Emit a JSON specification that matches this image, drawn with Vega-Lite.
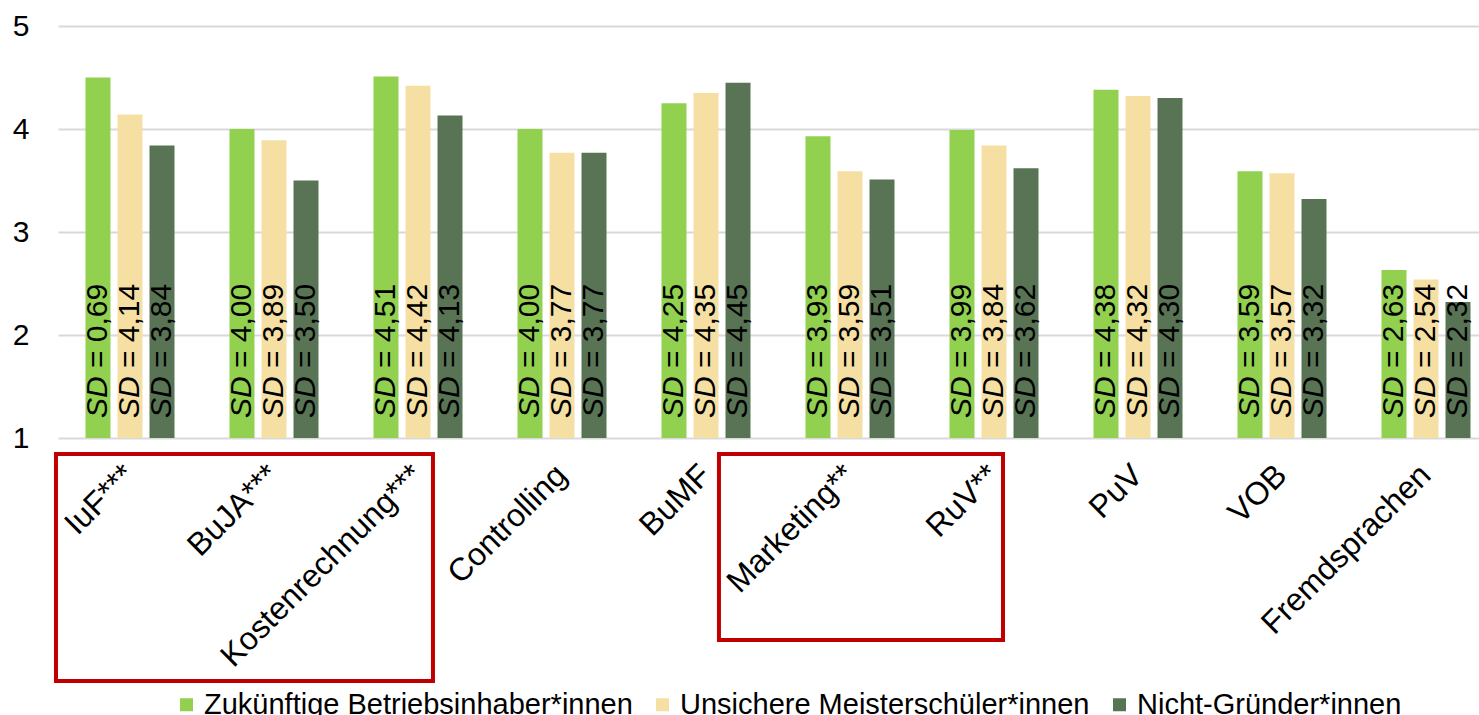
{
  "$schema": "https://vega.github.io/schema/vega-lite/v6.json",
  "autosize": {"type": "none"},
  "width": 1421,
  "height": 412,
  "padding": {"left": 58, "top": 26, "right": 0, "bottom": 277},
  "background": "white",
  "config": {
    "font": "Liberation Sans",
    "view": {"stroke": null},
    "axisY": {"domain": false, "ticks": false, "labelFontSize": 30, "labelPadding": 29, "gridColor": "#D9D9D9", "gridWidth": 2, "labelColor": "black"},
    "axisX": {"domain": false, "ticks": false, "grid": false, "labelAngle": -45, "labelAlign": "right", "labelBaseline": "top", "labelFontSize": 32, "labelPadding": 21, "labelOffset": -11, "labelLimit": 0, "labelOverlap": false, "labelColor": "black"}
  },
  "datasets": {
    "bars": [
      {"cat": "IuF***", "grp": "Zukünftige Betriebsinhaber*innen", "mean": 4.50, "lbl": "= 0,69"},
      {"cat": "IuF***", "grp": "Unsichere Meisterschüler*innen", "mean": 4.14, "lbl": "= 4,14"},
      {"cat": "IuF***", "grp": "Nicht-Gründer*innen", "mean": 3.84, "lbl": "= 3,84"},
      {"cat": "BuJA***", "grp": "Zukünftige Betriebsinhaber*innen", "mean": 4.00, "lbl": "= 4,00"},
      {"cat": "BuJA***", "grp": "Unsichere Meisterschüler*innen", "mean": 3.89, "lbl": "= 3,89"},
      {"cat": "BuJA***", "grp": "Nicht-Gründer*innen", "mean": 3.50, "lbl": "= 3,50"},
      {"cat": "Kostenrechnung***", "grp": "Zukünftige Betriebsinhaber*innen", "mean": 4.51, "lbl": "= 4,51"},
      {"cat": "Kostenrechnung***", "grp": "Unsichere Meisterschüler*innen", "mean": 4.42, "lbl": "= 4,42"},
      {"cat": "Kostenrechnung***", "grp": "Nicht-Gründer*innen", "mean": 4.13, "lbl": "= 4,13"},
      {"cat": "Controlling", "grp": "Zukünftige Betriebsinhaber*innen", "mean": 4.00, "lbl": "= 4,00"},
      {"cat": "Controlling", "grp": "Unsichere Meisterschüler*innen", "mean": 3.77, "lbl": "= 3,77"},
      {"cat": "Controlling", "grp": "Nicht-Gründer*innen", "mean": 3.77, "lbl": "= 3,77"},
      {"cat": "BuMF", "grp": "Zukünftige Betriebsinhaber*innen", "mean": 4.25, "lbl": "= 4,25"},
      {"cat": "BuMF", "grp": "Unsichere Meisterschüler*innen", "mean": 4.35, "lbl": "= 4,35"},
      {"cat": "BuMF", "grp": "Nicht-Gründer*innen", "mean": 4.45, "lbl": "= 4,45"},
      {"cat": "Marketing**", "grp": "Zukünftige Betriebsinhaber*innen", "mean": 3.93, "lbl": "= 3,93"},
      {"cat": "Marketing**", "grp": "Unsichere Meisterschüler*innen", "mean": 3.59, "lbl": "= 3,59"},
      {"cat": "Marketing**", "grp": "Nicht-Gründer*innen", "mean": 3.51, "lbl": "= 3,51"},
      {"cat": "RuV**", "grp": "Zukünftige Betriebsinhaber*innen", "mean": 3.99, "lbl": "= 3,99"},
      {"cat": "RuV**", "grp": "Unsichere Meisterschüler*innen", "mean": 3.84, "lbl": "= 3,84"},
      {"cat": "RuV**", "grp": "Nicht-Gründer*innen", "mean": 3.62, "lbl": "= 3,62"},
      {"cat": "PuV", "grp": "Zukünftige Betriebsinhaber*innen", "mean": 4.38, "lbl": "= 4,38"},
      {"cat": "PuV", "grp": "Unsichere Meisterschüler*innen", "mean": 4.32, "lbl": "= 4,32"},
      {"cat": "PuV", "grp": "Nicht-Gründer*innen", "mean": 4.30, "lbl": "= 4,30"},
      {"cat": "VOB", "grp": "Zukünftige Betriebsinhaber*innen", "mean": 3.59, "lbl": "= 3,59"},
      {"cat": "VOB", "grp": "Unsichere Meisterschüler*innen", "mean": 3.57, "lbl": "= 3,57"},
      {"cat": "VOB", "grp": "Nicht-Gründer*innen", "mean": 3.32, "lbl": "= 3,32"},
      {"cat": "Fremdsprachen", "grp": "Zukünftige Betriebsinhaber*innen", "mean": 2.63, "lbl": "= 2,63"},
      {"cat": "Fremdsprachen", "grp": "Unsichere Meisterschüler*innen", "mean": 2.54, "lbl": "= 2,54"},
      {"cat": "Fremdsprachen", "grp": "Nicht-Gründer*innen", "mean": 2.32, "lbl": "= 2,32"}
    ],
    "boxes": [
      {"box": "A", "x0": -0.014, "x1": 2.604, "y0": 0.845, "y1": -1.359},
      {"box": "B", "x0": 4.59, "x1": 6.5625, "y0": 0.845, "y1": -0.961}
    ]
  },
  "layer": [
    {
      "data": {"name": "bars"},
      "encoding": {
        "x": {"field": "cat", "type": "nominal", "sort": null, "title": null, "scale": {"range": [0, 1440], "paddingInner": 0, "paddingOuter": 0}},
        "xOffset": {"field": "grp", "type": "nominal", "sort": null, "scale": {"paddingInner": 0.219, "paddingOuter": 0.859}}
      },
      "layer": [
        {
          "mark": {"type": "bar"},
          "encoding": {
            "y": {"field": "mean", "type": "quantitative", "title": null, "scale": {"domain": [1, 5], "nice": false, "zero": false}, "axis": {"values": [1, 2, 3, 4, 5], "format": "d"}},
            "y2": {"datum": 1},
            "color": {
              "field": "grp", "type": "nominal", "sort": null,
              "scale": {"domain": ["Zukünftige Betriebsinhaber*innen", "Unsichere Meisterschüler*innen", "Nicht-Gründer*innen"], "range": ["#92D050", "#F5DFA3", "#587455"]},
              "legend": {"orient": "none", "legendX": 114, "legendY": 664, "direction": "horizontal", "title": null, "symbolType": "square", "symbolSize": 169, "symbolStrokeWidth": 0, "labelFontSize": 29, "labelOffset": 3, "columnPadding": 15, "labelLimit": 0, "labelColor": "black"}
            }
          }
        },
        {
          "mark": {"type": "text", "angle": 270, "align": "left", "baseline": "middle", "dx": 20, "fontSize": 30, "fontStyle": "italic", "color": "black"},
          "encoding": {"y": {"datum": 1, "type": "quantitative"}, "text": {"value": "SD"}}
        },
        {
          "mark": {"type": "text", "angle": 270, "align": "left", "baseline": "middle", "dx": 70, "fontSize": 30, "color": "black"},
          "encoding": {"y": {"datum": 1, "type": "quantitative"}, "text": {"field": "lbl"}}
        }
      ]
    },
    {
      "data": {"name": "boxes"},
      "mark": {"type": "rect", "fill": null, "stroke": "#C00000", "strokeWidth": 4},
      "encoding": {
        "x": {"field": "x0", "type": "quantitative", "scale": {"domain": [0, 10], "range": [0, 1440], "nice": false, "zero": false}, "axis": null},
        "x2": {"field": "x1"},
        "y": {"field": "y0", "type": "quantitative", "title": null, "scale": {"domain": [1, 5], "nice": false, "zero": false}},
        "y2": {"field": "y1"}
      }
    }
  ],
  "resolve": {"scale": {"x": "independent"}}
}
